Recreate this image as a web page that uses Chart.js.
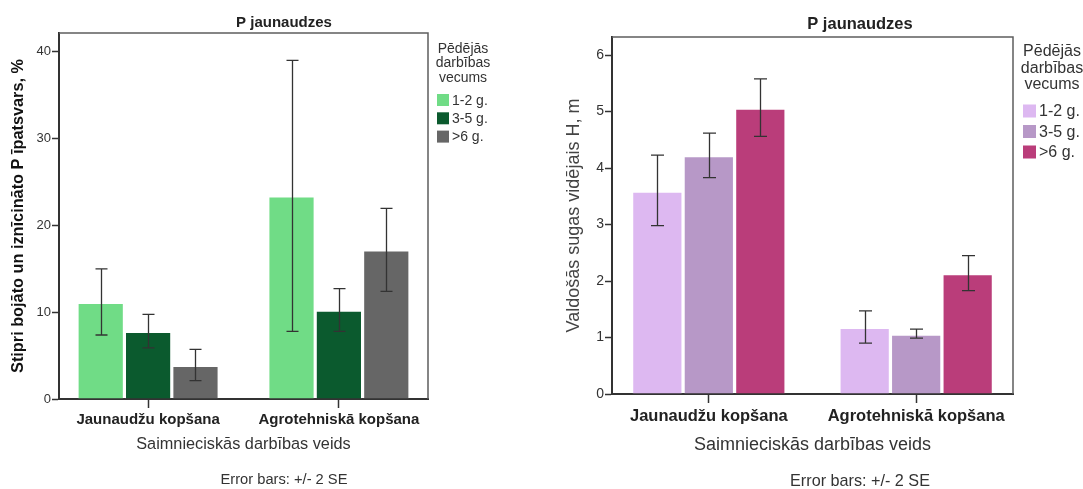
<!DOCTYPE html>
<html>
<head>
<meta charset="utf-8">
<script src="https://cdn.jsdelivr.net/npm/chart.js@4.4.0/dist/chart.umd.min.js"></script>
<style>
  body { margin: 0; background: #fff; }
  #left { position: absolute; left: 0; top: 0; }
  #right { position: absolute; left: 540px; top: 0; }
</style>
</head>
<body>
<canvas id="left" width="540" height="489"></canvas>
<canvas id="right" width="543" height="489"></canvas>
<script>
const FONT = 'Arial, "Liberation Sans", Helvetica, sans-serif';

const categories = ["Jaunaudžu kopšana", "Agrotehniskā kopšana"];
const ageGroups = ["1-2 g.", "3-5 g.", ">6 g."];

// left: share of heavily damaged / destroyed P, %
const damage12 = [11.05, 23.3];
const damage12Low = [7.36, 7.78];
const damage12High = [14.96, 38.96];
const damage35 = [7.71, 10.16];
const damage35Low = [5.87, 7.78];
const damage35High = [9.74, 12.69];
const damage6 = [3.8, 17.07];
const damage6Low = [2.11, 12.38];
const damage6High = [5.71, 21.93];
const damageTicks = [0, 10, 20, 30, 40];

// right: mean height of dominant species, m
const height12 = [3.58, 1.17];
const height12Low = [2.98, 0.9];
const height12High = [4.23, 1.47];
const height35 = [4.21, 1.05];
const height35Low = [3.83, 0.99];
const height35High = [4.62, 1.15];
const height6 = [5.05, 2.12];
const height6Low = [4.56, 1.83];
const height6High = [5.58, 2.45];
const heightTicks = [0, 1, 2, 3, 4, 5, 6];

const greenColors = ["#70dc86", "#0b5a2e", "#666666"];
const purpleColors = ["#ddb8f1", "#b798c7", "#ba3d7a"];

// SPSS puts the group centres 0.467 of a step from the frame
const EDGE = 0.467;

const spssDecor = {
  id: "spssDecor",
  afterDatasetsDraw(chart, args, o) {
    const ctx = chart.ctx;
    const y = chart.scales.y;
    ctx.save();
    ctx.strokeStyle = "#333";
    ctx.lineWidth = 1.3;
    chart.data.datasets.forEach((ds, di) => {
      chart.getDatasetMeta(di).data.forEach((bar, i) => {
        const lo = y.getPixelForValue(ds.errLow[i]);
        const hi = y.getPixelForValue(ds.errHigh[i]);
        const x = Math.round(bar.x) + 0.5;
        ctx.beginPath();
        ctx.moveTo(x, lo); ctx.lineTo(x, hi);
        ctx.moveTo(x - o.cap, hi); ctx.lineTo(x + o.cap, hi);
        ctx.moveTo(x - o.cap, lo); ctx.lineTo(x + o.cap, lo);
        ctx.stroke();
      });
    });
    ctx.restore();
  },
  afterDraw(chart, args, o) {
    const ctx = chart.ctx;
    const a = chart.chartArea;
    ctx.save();
    // frame top + right
    ctx.strokeStyle = "#5e5e5e";
    ctx.lineWidth = 1.5;
    ctx.beginPath();
    ctx.moveTo(a.left, a.top); ctx.lineTo(a.right, a.top); ctx.lineTo(a.right, a.bottom);
    ctx.stroke();

    ctx.fillStyle = "#222";
    ctx.textAlign = "center";
    ctx.textBaseline = "middle";
    ctx.font = "bold " + o.titleSize + "px " + FONT;
    ctx.fillText("P jaunaudzes", o.titleX, o.titleY);

    ctx.fillStyle = "#333";
    ctx.font = o.xTitleSize + "px " + FONT;
    ctx.fillText("Saimnieciskās darbības veids", (a.left + a.right) / 2, 445);
    ctx.font = o.noteSize + "px " + FONT;
    ctx.fillText("Error bars: +/- 2 SE", o.titleX, o.noteY);

    // y title
    ctx.save();
    ctx.translate(o.yTitleX, (a.top + a.bottom) / 2);
    ctx.rotate(-Math.PI / 2);
    ctx.fillStyle = o.yTitleColor;
    ctx.font = o.yTitleFont;
    ctx.fillText(o.yTitle, 0, 0);
    ctx.restore();

    // legend
    ctx.fillStyle = "#333";
    ctx.font = o.legSize + "px " + FONT;
    ["Pēdējās", "darbības", "vecums"].forEach((t, i) => {
      ctx.fillText(t, o.legCx, o.legTop + i * o.legLine);
    });
    ctx.textAlign = "left";
    chart.data.datasets.forEach((ds, i) => {
      const cy = o.legItemTop + i * o.legStep;
      ctx.fillStyle = ds.backgroundColor;
      ctx.fillRect(o.legBoxX, cy - o.legBox / 2, o.legBox, o.legBox);
      ctx.fillStyle = "#333";
      ctx.fillText(ds.label, o.legBoxX + o.legBox + 3, cy + 1);
    });
    ctx.restore();
  }
};

function makeDatasets(colors, values, lows, highs) {
  return ageGroups.map((g, i) => ({
    label: g,
    data: values[i],
    errLow: lows[i],
    errHigh: highs[i],
    backgroundColor: colors[i],
    borderColor: "rgba(255,255,255,0.3)",
    borderWidth: 1,
    categoryPercentage: 0.745,
    barPercentage: 0.975
  }));
}

function makeChart(id, cfg) {
  return new Chart(document.getElementById(id), {
    type: "bar",
    data: {
      labels: categories,
      datasets: makeDatasets(cfg.colors, cfg.values, cfg.lows, cfg.highs)
    },
    plugins: [spssDecor],
    options: {
      responsive: false,
      animation: false,
      layout: { padding: { left: 0, right: cfg.padRight, top: cfg.top, bottom: 0 } },
      plugins: {
        legend: { display: false },
        tooltip: { enabled: false },
        spssDecor: cfg.decor
      },
      scales: {
        x: {
          offset: false,
          grid: { display: true, offset: false, drawOnChartArea: false, tickLength: 9, color: "#333", tickWidth: 1.5 },
          border: { display: true, color: "#333", width: 2 },
          ticks: { color: "#222", font: { family: FONT, size: cfg.catSize, weight: "bold" }, padding: cfg.catPad, maxRotation: 0 },
          afterBuildTicks(scale) {
            scale._startValue = -EDGE;
            scale._valueRange = 1 + 2 * EDGE;
          },
          afterFit(scale) { scale.height = 489 - cfg.bottom; }
        },
        y: {
          min: 0,
          max: cfg.yMax,
          afterBuildTicks(scale) { scale.ticks = cfg.ticks.map(v => ({ value: v })); },
          grid: { display: true, drawOnChartArea: false, tickLength: 7, color: "#333", tickWidth: 1.5 },
          border: { display: true, color: "#333", width: 2 },
          ticks: { color: "#333", font: { family: FONT, size: cfg.tickSize }, padding: 1 },
          afterFit(scale) { scale.width = cfg.left; }
        }
      }
    }
  });
}

makeChart("left", {
  colors: greenColors,
  values: [damage12, damage35, damage6],
  lows: [damage12Low, damage35Low, damage6Low],
  highs: [damage12High, damage35High, damage6High],
  ticks: damageTicks,
  yMax: 42.1,
  left: 59, padRight: 540 - 428, top: 33, bottom: 399,
  catSize: 15, catPad: 3, tickSize: 13,
  decor: {
    cap: 6, titleX: 284, titleY: 23, titleSize: 15,
    xTitleSize: 16.3, noteSize: 14.7, noteY: 480,
    yTitle: "Stipri bojāto un iznīcināto P īpatsvars, %", yTitleX: 19,
    yTitleFont: "bold 16.3px " + FONT, yTitleColor: "#111",
    legSize: 14, legCx: 463, legTop: 49, legLine: 14.5,
    legBoxX: 437, legBox: 12, legItemTop: 100, legStep: 18.3
  }
});

makeChart("right", {
  colors: purpleColors,
  values: [height12, height35, height6],
  lows: [height12Low, height35Low, height6Low],
  highs: [height12High, height35High, height6High],
  ticks: heightTicks,
  yMax: 6.32,
  left: 72, padRight: 543 - 473, top: 37, bottom: 394,
  catSize: 16.5, catPad: 4, tickSize: 14,
  decor: {
    cap: 6.5, titleX: 320, titleY: 24, titleSize: 16.5,
    xTitleSize: 18, noteSize: 16.2, noteY: 482,
    yTitle: "Valdošās sugas vidējais H, m", yTitleX: 34,
    yTitleFont: "18px " + FONT, yTitleColor: "#444",
    legSize: 16, legCx: 512, legTop: 51.5, legLine: 16.7,
    legBoxX: 483, legBox: 13, legItemTop: 111, legStep: 20.5
  }
});
</script>
</body>
</html>
